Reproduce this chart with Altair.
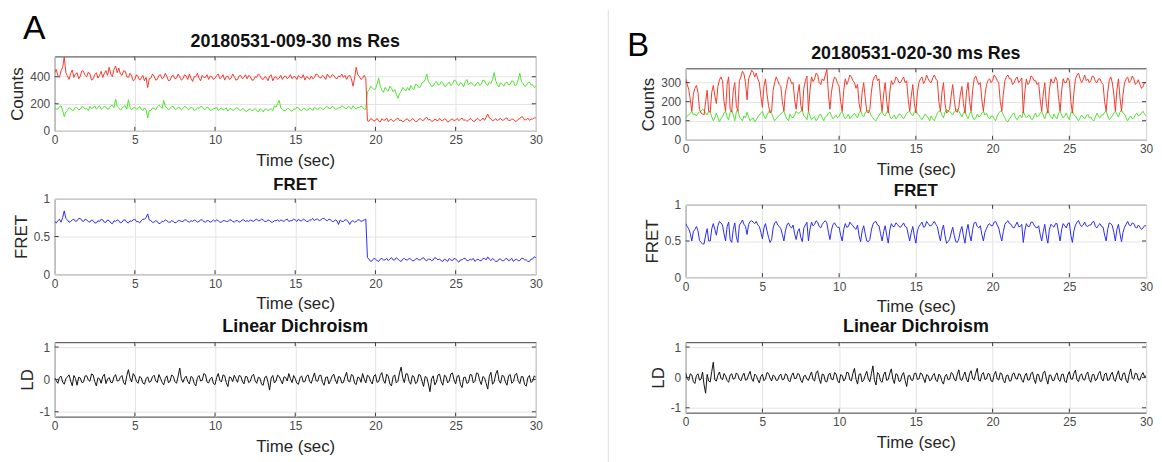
import altair as alt
import pandas as pd

# ---------------- data (0.1 s sampling, 0..30 s) ----------------
TIME = [round(0.1 * i, 1) for i in range(301)]

A_RED = [430, 455, 410, 395, 445, 470, 545, 430, 405, 380, 425, 450, 395, 420, 430, 385, 405, 445, 440, 410,
         400, 435, 420, 375, 385, 415, 430, 390, 410, 440, 395, 425, 445, 410, 470, 420, 400, 455, 480, 430,
         465, 420, 410, 445, 440, 400, 395, 425, 405, 370, 380, 415, 400, 375, 390, 410, 370, 395, 320, 385,
         390, 420, 405, 375, 380, 410, 415, 385, 395, 425, 400, 370, 375, 405, 410, 385, 390, 420, 400, 375,
         385, 415, 405, 380, 420, 390, 365, 400, 400, 425, 390, 370, 410, 395, 395, 415, 380, 405, 400, 380,
         390, 410, 420, 385, 395, 415, 375, 400, 405, 380, 390, 420, 400, 375, 380, 405, 410, 385, 395, 415,
         385, 410, 400, 375, 375, 400, 395, 420, 410, 385, 380, 400, 395, 370, 405, 415, 370, 395, 400, 380,
         390, 410, 380, 400, 405, 385, 395, 415, 385, 400, 400, 380, 410, 395, 390, 415, 375, 400, 395, 380,
         405, 385, 395, 420, 415, 395, 390, 410, 400, 380, 420, 400, 395, 415, 410, 390, 385, 405, 400, 420,
         395, 410, 380, 405, 410, 385, 330, 390, 470, 415, 400, 380, 390, 410, 385, 75, 70, 90, 85, 72,
         78, 92, 72, 65, 90, 78, 80, 95, 68, 82, 85, 70, 75, 88, 95, 76, 80, 66, 72, 86,
         88, 72, 75, 90, 82, 68, 70, 86, 90, 77, 78, 94, 100, 80, 85, 70, 72, 88, 80, 74,
         92, 76, 78, 88, 85, 66, 70, 84, 88, 74, 80, 92, 75, 86, 95, 78, 82, 70, 78, 90,
         85, 70, 72, 88, 90, 76, 80, 95, 78, 100, 125, 96, 88, 74, 80, 90, 75, 84, 92, 78,
         80, 92, 95, 76, 78, 88, 85, 70, 72, 86, 90, 104, 100, 80, 82, 94, 78, 86, 88, 96,
         95]

A_GREEN = [175, 160, 160, 180, 185, 150, 105, 140, 150, 170, 165, 150, 155, 175, 170, 155, 160, 180, 175, 160,
           165, 150, 180, 165, 170, 185, 160, 175, 185, 160, 170, 180, 175, 160, 165, 185, 190, 170, 235, 180,
           170, 155, 165, 180, 185, 160, 230, 175, 155, 170, 175, 160, 165, 180, 160, 150, 170, 155, 95, 150,
           150, 170, 165, 155, 175, 190, 180, 165, 225, 180, 170, 155, 165, 180, 180, 160, 160, 175, 170, 155,
           165, 180, 175, 160, 160, 175, 170, 150, 155, 170, 165, 180, 180, 160, 160, 175, 170, 150, 155, 165,
           165, 175, 150, 160, 170, 155, 160, 170, 145, 160, 165, 150, 155, 170, 170, 155, 150, 165, 160, 145,
           145, 160, 160, 150, 155, 165, 150, 140, 165, 155, 140, 160, 160, 150, 155, 165, 150, 185, 175, 200,
           225, 170, 160, 150, 150, 165, 165, 150, 145, 160, 160, 175, 170, 155, 150, 165, 165, 150, 155, 170,
           160, 150, 175, 165, 155, 170, 170, 160, 160, 175, 180, 165, 165, 180, 175, 160, 160, 170, 170, 185,
           180, 165, 165, 180, 175, 160, 185, 170, 160, 175, 170, 185, 175, 160, 160, 290, 300, 330, 320, 305,
           310, 345, 390, 330, 300, 285, 320, 305, 295, 330, 315, 290, 305, 270, 240, 275, 290, 320, 310, 295,
           320, 300, 335, 315, 305, 345, 340, 320, 325, 355, 360, 380, 420, 365, 350, 330, 330, 355, 365, 340,
           340, 365, 355, 330, 330, 350, 360, 335, 345, 375, 370, 345, 335, 355, 350, 325, 365, 380, 340, 355,
           355, 340, 330, 350, 360, 335, 345, 375, 370, 345, 335, 360, 350, 380, 430, 370, 340, 325, 355, 345,
           330, 355, 360, 340, 345, 370, 365, 335, 340, 380, 425, 365, 350, 330, 335, 355, 360, 340, 340, 320,
           330]

A_FRET = [0.70, 0.68, 0.71, 0.73, 0.69, 0.75, 0.84, 0.74, 0.72, 0.69, 0.70, 0.72, 0.73, 0.70, 0.71, 0.74, 0.74, 0.71, 0.70, 0.73,
          0.72, 0.70, 0.69, 0.72, 0.71, 0.68, 0.68, 0.71, 0.70, 0.73, 0.72, 0.69, 0.69, 0.72, 0.71, 0.68, 0.67, 0.71, 0.70, 0.72,
          0.71, 0.68, 0.69, 0.72, 0.72, 0.69, 0.68, 0.71, 0.70, 0.72, 0.73, 0.70, 0.70, 0.68, 0.71, 0.73, 0.73, 0.75, 0.80, 0.72,
          0.71, 0.69, 0.69, 0.71, 0.70, 0.67, 0.68, 0.70, 0.70, 0.72, 0.71, 0.69, 0.69, 0.71, 0.70, 0.68, 0.69, 0.71, 0.71, 0.70,
          0.70, 0.72, 0.72, 0.70, 0.69, 0.71, 0.70, 0.72, 0.71, 0.69, 0.70, 0.72, 0.72, 0.70, 0.69, 0.71, 0.71, 0.69, 0.70, 0.72,
          0.70, 0.72, 0.71, 0.69, 0.69, 0.71, 0.71, 0.70, 0.70, 0.72, 0.72, 0.70, 0.69, 0.71, 0.71, 0.69, 0.70, 0.72, 0.72, 0.70,
          0.71, 0.70, 0.72, 0.71, 0.70, 0.72, 0.73, 0.71, 0.71, 0.73, 0.72, 0.70, 0.70, 0.72, 0.71, 0.69, 0.69, 0.71, 0.71, 0.72,
          0.70, 0.72, 0.71, 0.70, 0.72, 0.73, 0.70, 0.71, 0.71, 0.73, 0.72, 0.70, 0.73, 0.71, 0.71, 0.73, 0.72, 0.70, 0.70, 0.72,
          0.72, 0.74, 0.71, 0.73, 0.73, 0.71, 0.72, 0.74, 0.74, 0.72, 0.71, 0.73, 0.72, 0.70, 0.70, 0.72, 0.71, 0.66, 0.72, 0.70,
          0.70, 0.72, 0.72, 0.70, 0.66, 0.70, 0.71, 0.69, 0.70, 0.72, 0.72, 0.70, 0.71, 0.72, 0.73, 0.22, 0.20, 0.17, 0.18, 0.21,
          0.20, 0.18, 0.17, 0.20, 0.21, 0.19, 0.19, 0.21, 0.18, 0.20, 0.22, 0.19, 0.19, 0.22, 0.20, 0.18, 0.17, 0.20, 0.21, 0.19,
          0.19, 0.21, 0.20, 0.18, 0.18, 0.20, 0.21, 0.19, 0.19, 0.21, 0.22, 0.19, 0.18, 0.20, 0.20, 0.18, 0.19, 0.22, 0.21, 0.19,
          0.20, 0.18, 0.17, 0.20, 0.19, 0.17, 0.21, 0.19, 0.18, 0.21, 0.20, 0.18, 0.16, 0.19, 0.19, 0.21, 0.21, 0.18, 0.18, 0.20,
          0.19, 0.21, 0.17, 0.19, 0.20, 0.18, 0.18, 0.21, 0.21, 0.19, 0.23, 0.20, 0.18, 0.21, 0.19, 0.17, 0.17, 0.20, 0.20, 0.18,
          0.18, 0.20, 0.21, 0.18, 0.19, 0.21, 0.17, 0.19, 0.20, 0.18, 0.18, 0.21, 0.21, 0.19, 0.19, 0.17, 0.17, 0.20, 0.20, 0.23,
          0.22]

A_LD = [0.05, -0.04, -0.12, 0.06, 0.10, -0.08, -0.15, 0.02, 0.08, 0.14, -0.05, -0.20, 0.12, 0.03, -0.18, 0.07, 0.04, -0.10, -0.08, 0.11,
        0.11, -0.02, -0.06, 0.17, 0.14, -0.07, -0.20, 0.05, 0.02, -0.12, 0.09, 0.16, -0.13, 0.01, 0.06, -0.09, -0.10, 0.08, 0.15, -0.05,
        -0.04, 0.07, 0.12, -0.10, -0.16, 0.12, 0.30, 0.05, -0.08, 0.18, 0.10, -0.06, -0.12, 0.09, 0.05, -0.11, -0.15, 0.02, 0.08, -0.09,
        -0.06, 0.08, 0.13, -0.04, -0.10, 0.15, 0.04, -0.09, -0.17, 0.03, 0.11, -0.11, -0.05, 0.14, 0.09, -0.07, -0.12, 0.10, 0.35, 0.02,
        -0.09, 0.04, 0.10, -0.07, -0.14, 0.09, 0.06, -0.12, -0.20, 0.05, 0.12, -0.05, -0.03, 0.18, 0.15, -0.08, -0.11, 0.02, 0.07, -0.13,
        -0.16, 0.06, 0.18, -0.03, -0.08, 0.14, 0.11, -0.10, -0.22, 0.08, 0.05, -0.07, 0.13, 0.02, -0.09, 0.12, 0.10, -0.05, -0.14, 0.09,
        0.08, -0.10, -0.06, 0.11, 0.16, -0.04, -0.12, 0.07, 0.04, -0.15, -0.18, 0.06, 0.10, -0.08, -0.33, 0.04, 0.12, -0.11, -0.05, 0.13,
        0.09, -0.03, -0.14, 0.08, 0.06, -0.05, 0.18, 0.02, -0.10, 0.12, 0.03, -0.12, -0.15, 0.05, 0.11, -0.08, -0.07, 0.10, 0.14, -0.06,
        -0.12, 0.05, 0.20, -0.04, -0.06, 0.12, 0.13, -0.09, -0.18, 0.06, 0.08, -0.14, -0.04, 0.10, 0.16, -0.02, -0.13, 0.09, 0.07, -0.11,
        -0.10, 0.08, 0.22, -0.05, -0.08, 0.15, 0.12, -0.12, -0.16, 0.07, 0.05, -0.09, 0.18, 0.01, -0.11, 0.13, 0.09, -0.06, -0.14, 0.10,
        0.15, -0.09, -0.07, 0.12, 0.21, -0.03, -0.12, 0.16, 0.10, -0.14, -0.20, 0.08, 0.14, -0.11, -0.06, 0.20, 0.38, 0.05, -0.10, 0.17,
        0.17, -0.06, -0.15, 0.12, 0.08, -0.13, -0.09, 0.15, 0.13, -0.05, -0.22, 0.09, 0.06, -0.14, -0.38, 0.02, 0.11, -0.17, -0.08, 0.14,
        0.16, -0.07, -0.18, 0.13, 0.09, -0.11, -0.05, 0.17, 0.20, -0.02, -0.14, 0.10, 0.12, -0.16, -0.25, 0.06, 0.07, -0.12, -0.10, 0.15,
        0.14, -0.11, -0.06, 0.20, 0.18, -0.04, -0.16, 0.09, 0.05, -0.12, -0.30, 0.10, 0.22, -0.15, -0.08, 0.17, 0.28, -0.03, -0.12, 0.13,
        0.10, -0.08, -0.18, 0.11, 0.15, -0.12, -0.07, 0.14, 0.19, -0.04, -0.13, 0.09, 0.08, -0.16, -0.21, 0.05, 0.12, -0.10, -0.05, 0.11,
        0.06]

B_RED = [320, 290, 265, 210, 150, 240, 270, 285, 250, 160, 140, 135, 130, 200, 260, 150, 145, 250, 285, 230,
         190, 280, 315, 330, 310, 200, 150, 290, 330, 160, 145, 260, 300, 180, 150, 310, 330, 360, 345, 300,
         210, 320, 340, 365, 355, 330, 350, 320, 300, 230, 170, 280, 320, 240, 180, 140, 150, 260, 300, 330,
         310, 290, 280, 200, 150, 250, 290, 330, 320, 295, 300, 210, 160, 240, 290, 180, 150, 270, 310, 335,
         150, 260, 330, 305, 320, 350, 340, 300, 290, 320, 310, 340, 370, 240, 160, 250, 300, 330, 320, 295,
         280, 200, 150, 260, 320, 290, 310, 340, 330, 310, 300, 270, 290, 190, 150, 250, 300, 220, 150, 140,
         160, 250, 310, 330, 340, 310, 320, 220, 150, 240, 300, 200, 140, 250, 310, 290, 300, 330, 320, 300,
         300, 315, 330, 300, 310, 210, 150, 230, 290, 190, 140, 250, 300, 320, 330, 295, 310, 340, 320, 305,
         300, 325, 340, 320, 310, 200, 150, 250, 300, 190, 140, 150, 160, 230, 290, 210, 150, 145, 170, 240,
         280, 190, 140, 250, 300, 200, 150, 260, 320, 335, 310, 290, 300, 210, 150, 230, 290, 310, 320, 300,
         310, 340, 330, 310, 300, 200, 150, 240, 310, 330, 340, 320, 320, 290, 300, 320, 330, 300, 310, 325,
         140, 250, 320, 290, 300, 335, 330, 310, 310, 290, 300, 210, 150, 240, 300, 190, 140, 260, 320, 300,
         300, 330, 310, 220, 150, 260, 320, 300, 300, 325, 310, 200, 140, 250, 320, 340, 350, 320, 300, 315,
         340, 310, 320, 300, 310, 335, 330, 305, 300, 320, 320, 300, 290, 200, 150, 250, 310, 330, 300, 240,
         150, 260, 320, 220, 150, 240, 300, 320, 330, 300, 310, 335, 320, 290, 300, 315, 290, 270, 280, 300,
         300]

B_GREEN = [115, 125, 130, 140, 150, 130, 135, 125, 140, 145, 150, 160, 155, 140, 130, 150, 145, 120, 100, 115,
           140, 115, 95, 110, 120, 140, 150, 120, 105, 145, 155, 130, 100, 145, 160, 120, 110, 100, 125, 115,
           145, 120, 100, 110, 115, 95, 105, 120, 130, 140, 150, 125, 110, 130, 145, 155, 140, 115, 100, 110,
           120, 130, 135, 145, 150, 125, 110, 100, 135, 120, 115, 130, 150, 140, 140, 150, 155, 125, 120, 105,
           150, 125, 105, 115, 120, 100, 110, 130, 135, 115, 100, 120, 125, 140, 145, 125, 110, 120, 130, 115,
           125, 140, 150, 125, 110, 120, 135, 110, 120, 130, 140, 125, 115, 140, 155, 130, 120, 140, 150, 155,
           145, 125, 115, 105, 100, 115, 130, 140, 150, 130, 125, 145, 155, 125, 110, 120, 130, 110, 120, 135,
           135, 120, 110, 125, 140, 145, 150, 135, 125, 145, 155, 135, 130, 115, 105, 120, 135, 125, 115, 100,
           125, 110, 100, 120, 140, 150, 150, 130, 115, 145, 160, 150, 150, 140, 130, 145, 155, 160, 150, 135,
           120, 140, 155, 125, 110, 135, 150, 120, 105, 115, 135, 120, 125, 140, 150, 130, 140, 120, 110, 125,
           125, 110, 100, 125, 140, 150, 150, 130, 115, 100, 95, 110, 120, 135, 140, 115, 105, 120, 130, 115,
           150, 130, 115, 125, 130, 110, 105, 125, 140, 120, 125, 140, 150, 130, 110, 140, 155, 135, 120, 110,
           135, 120, 110, 140, 150, 130, 115, 125, 140, 120, 105, 140, 150, 130, 125, 110, 100, 115, 130, 120,
           110, 125, 135, 115, 120, 105, 100, 120, 140, 125, 115, 130, 130, 145, 150, 125, 105, 115, 125, 140,
           150, 135, 120, 145, 155, 140, 135, 115, 100, 115, 125, 110, 115, 130, 140, 125, 130, 140, 150, 135,
           125]

B_FRET = [0.74, 0.70, 0.67, 0.60, 0.50, 0.63, 0.66, 0.70, 0.64, 0.51, 0.48, 0.46, 0.46, 0.58, 0.67, 0.50, 0.50, 0.67, 0.74, 0.66,
          0.58, 0.71, 0.77, 0.75, 0.72, 0.60, 0.50, 0.70, 0.76, 0.52, 0.48, 0.66, 0.75, 0.56, 0.48, 0.72, 0.75, 0.79, 0.73, 0.70,
          0.59, 0.73, 0.77, 0.78, 0.76, 0.74, 0.77, 0.72, 0.70, 0.62, 0.53, 0.68, 0.74, 0.64, 0.55, 0.48, 0.52, 0.68, 0.75, 0.77,
          0.72, 0.70, 0.67, 0.59, 0.50, 0.64, 0.72, 0.75, 0.70, 0.68, 0.72, 0.60, 0.52, 0.63, 0.67, 0.55, 0.49, 0.68, 0.72, 0.76,
          0.50, 0.66, 0.76, 0.71, 0.73, 0.78, 0.76, 0.70, 0.68, 0.73, 0.76, 0.78, 0.75, 0.62, 0.52, 0.65, 0.73, 0.75, 0.71, 0.69,
          0.69, 0.58, 0.50, 0.66, 0.74, 0.69, 0.70, 0.76, 0.73, 0.71, 0.68, 0.66, 0.72, 0.57, 0.49, 0.64, 0.71, 0.60, 0.50, 0.49,
          0.52, 0.65, 0.73, 0.76, 0.77, 0.72, 0.71, 0.60, 0.50, 0.63, 0.71, 0.58, 0.47, 0.65, 0.74, 0.70, 0.70, 0.75, 0.73, 0.70,
          0.69, 0.72, 0.75, 0.70, 0.69, 0.59, 0.50, 0.62, 0.70, 0.57, 0.47, 0.64, 0.70, 0.73, 0.76, 0.69, 0.70, 0.77, 0.74, 0.71,
          0.71, 0.74, 0.77, 0.73, 0.70, 0.59, 0.50, 0.65, 0.72, 0.57, 0.47, 0.49, 0.52, 0.61, 0.69, 0.58, 0.49, 0.48, 0.53, 0.64,
          0.70, 0.57, 0.47, 0.64, 0.73, 0.59, 0.50, 0.66, 0.75, 0.76, 0.70, 0.68, 0.71, 0.59, 0.50, 0.62, 0.67, 0.72, 0.74, 0.71,
          0.71, 0.76, 0.77, 0.72, 0.68, 0.58, 0.50, 0.63, 0.73, 0.76, 0.78, 0.74, 0.73, 0.69, 0.68, 0.72, 0.76, 0.70, 0.70, 0.73,
          0.48, 0.64, 0.74, 0.70, 0.70, 0.76, 0.76, 0.72, 0.69, 0.68, 0.71, 0.59, 0.50, 0.63, 0.73, 0.57, 0.47, 0.66, 0.73, 0.71,
          0.69, 0.74, 0.74, 0.61, 0.50, 0.66, 0.74, 0.71, 0.68, 0.74, 0.75, 0.58, 0.48, 0.64, 0.72, 0.76, 0.78, 0.73, 0.70, 0.72,
          0.76, 0.71, 0.70, 0.72, 0.72, 0.76, 0.77, 0.70, 0.68, 0.72, 0.74, 0.70, 0.69, 0.58, 0.50, 0.66, 0.75, 0.74, 0.71, 0.62,
          0.50, 0.66, 0.73, 0.60, 0.49, 0.62, 0.69, 0.73, 0.77, 0.72, 0.71, 0.75, 0.74, 0.69, 0.68, 0.72, 0.69, 0.66, 0.68, 0.71,
          0.71]

B_LD = [0.15, -0.05, -0.10, 0.12, 0.08, -0.14, -0.20, 0.06, 0.12, -0.09, -0.06, 0.18, -0.25, -0.52, 0.10, -0.12, -0.15, 0.20, 0.50, -0.08,
        -0.12, 0.07, 0.18, -0.03, -0.08, 0.13, 0.05, -0.10, -0.16, 0.08, 0.12, -0.06, -0.04, 0.15, 0.09, -0.07, -0.11, 0.05, 0.14, -0.09,
        -0.07, 0.09, 0.20, -0.04, -0.13, 0.11, 0.06, -0.08, -0.18, 0.03, 0.10, -0.11, -0.05, 0.16, 0.13, -0.02, -0.12, 0.08, 0.04, -0.10,
        -0.09, 0.05, 0.11, -0.08, -0.06, 0.12, 0.08, -0.11, -0.14, 0.06, 0.15, -0.04, -0.03, 0.13, 0.10, -0.09, -0.17, 0.04, 0.07, -0.06,
        -0.10, 0.06, 0.18, -0.07, -0.12, 0.15, 0.22, -0.05, -0.20, 0.11, 0.09, -0.13, -0.15, 0.08, 0.14, -0.06, -0.08, 0.16, 0.12, -0.11,
        -0.18, 0.09, 0.06, -0.12, -0.05, 0.17, 0.15, -0.08, -0.11, 0.14, 0.30, -0.06, -0.22, 0.10, 0.12, -0.15, -0.09, 0.07, 0.20, -0.04,
        -0.14, 0.12, 0.38, -0.08, -0.25, 0.16, 0.10, -0.12, -0.16, 0.09, 0.18, -0.10, -0.07, 0.14, 0.28, -0.06, -0.20, 0.12, 0.09, -0.13,
        -0.12, 0.08, 0.16, -0.10, -0.30, 0.05, 0.07, -0.09, -0.10, 0.13, 0.14, -0.07, -0.05, 0.15, 0.11, -0.04, -0.17, 0.09, 0.06, -0.11,
        -0.08, 0.07, 0.13, -0.09, -0.14, 0.11, 0.05, -0.13, -0.22, 0.04, 0.10, -0.08, -0.06, 0.16, 0.12, -0.05, -0.12, 0.10, 0.25, -0.07,
        -0.10, 0.06, 0.18, -0.06, -0.15, 0.12, 0.22, -0.04, -0.08, 0.14, 0.30, -0.09, -0.12, 0.10, 0.16, -0.07, -0.05, 0.13, 0.11, -0.12,
        -0.14, 0.09, 0.20, -0.05, -0.09, 0.15, 0.12, -0.10, -0.18, 0.06, 0.08, -0.12, -0.11, 0.11, 0.15, -0.03, -0.06, 0.12, 0.10, -0.08,
        -0.16, 0.05, 0.14, -0.09, -0.08, 0.12, 0.18, -0.06, -0.20, 0.10, 0.09, -0.13, -0.12, 0.16, 0.21, -0.04, -0.22, 0.08, 0.07, -0.10,
        -0.10, 0.07, 0.15, -0.08, -0.13, 0.10, 0.11, -0.12, -0.17, 0.08, 0.19, -0.05, -0.06, 0.14, 0.24, -0.09, -0.14, 0.06, 0.12, -0.07,
        -0.09, 0.10, 0.18, -0.07, -0.16, 0.09, 0.10, -0.11, -0.05, 0.13, 0.20, -0.04, -0.12, 0.11, 0.14, -0.10, -0.08, 0.09, 0.17, -0.06,
        -0.13, 0.08, 0.22, -0.05, -0.10, 0.13, 0.15, -0.09, -0.18, 0.10, 0.28, -0.02, -0.06, 0.14, 0.12, -0.08, -0.09, 0.07, 0.16, 0.02,
        0.05]

X_TICKS = [0, 5, 10, 15, 20, 25, 30]
TITLE_A = "20180531-009-30 ms Res"
TITLE_B = "20180531-020-30 ms Res"

# ---------------- style ----------------
FONT = "Liberation Sans"
RED, GREEN, BLUE, BLACK = "#f23a2c", "#4fe22e", "#2a2af2", "#121212"
FRAME = "#3a3a3a"


def table(**cols):
    n = min(len(TIME), *[len(v) for v in cols.values()])
    d = {"t": TIME[:n]}
    for k, v in cols.items():
        d[k] = v[:n]
    return pd.DataFrame(d)


def panel(df, series, ydomain, yticks, ytitle, title, tsize, toff, w, h):
    xenc = alt.X("t:Q", scale=alt.Scale(domain=[0, 30], nice=False, zero=False),
                 axis=alt.Axis(values=X_TICKS, title="Time (sec)"))
    yscale = alt.Scale(domain=ydomain, nice=False, zero=False)
    yaxis = alt.Axis(values=yticks, title=ytitle, labelExpr="datum.value + ''")

    def yenc(f):
        return alt.Y(f"{f}:Q", scale=yscale, axis=yaxis)

    layers = []
    for col, color in series:
        layers.append(alt.Chart(df).mark_line(color=color, strokeWidth=1, clip=True)
                      .encode(x=xenc, y=yenc(col)))
    # inward tick marks (MATLAB style)
    xt = pd.DataFrame({"t": X_TICKS[1:-1]})
    layers.append(alt.Chart(xt).mark_rule(color=FRAME, strokeWidth=1)
                  .encode(x=xenc, y=alt.value(0), y2=alt.value(4)))
    layers.append(alt.Chart(xt).mark_rule(color=FRAME, strokeWidth=1)
                  .encode(x=xenc, y=alt.value(h - 4), y2=alt.value(h)))
    inner = [v for v in yticks if ydomain[0] < v < ydomain[1]]
    yt = pd.DataFrame({"v": inner})
    layers.append(alt.Chart(yt).mark_rule(color=FRAME, strokeWidth=1)
                  .encode(y=yenc("v"), x=alt.value(0), x2=alt.value(4)))
    layers.append(alt.Chart(yt).mark_rule(color=FRAME, strokeWidth=1)
                  .encode(y=yenc("v"), x=alt.value(w - 4), x2=alt.value(w)))
    return alt.layer(*layers).properties(
        width=w, height=h,
        title=alt.TitleParams(title, fontSize=tsize, fontWeight="bold", font=FONT,
                              color="#111111", offset=toff, anchor="middle", frame="group"))


def deco(w, h, items):
    d = pd.DataFrame({"k": [0]})
    layers = []
    for it in items:
        if it[0] == "rule":
            _, color, x, x2, y, y2 = it
            layers.append(alt.Chart(d).mark_rule(color=color, strokeWidth=1).encode(
                x=alt.value(x), x2=alt.value(x2), y=alt.value(y), y2=alt.value(y2)))
        else:
            _, txt, size, x, y = it
            layers.append(alt.Chart(d).mark_text(text=txt, font=FONT, fontSize=size, align="left",
                                                 baseline="alphabetic", color="#000000").encode(
                x=alt.value(x), y=alt.value(y)))
    return alt.layer(*layers).properties(width=w, height=h,
                                         view=alt.ViewBackground(strokeOpacity=0))


WA, WB = 485, 464

A1 = panel(table(red=A_RED, green=A_GREEN), [("green", GREEN), ("red", RED)],
           [0, 550], [0, 200, 400], "Counts", TITLE_A, 18, 5, WA, 75)
A2 = panel(table(fret=A_FRET), [("fret", BLUE)],
           [0, 1], [0, 0.5, 1], "FRET", "FRET", 17, -1, WA, 76)
A3 = panel(table(ld=A_LD), [("ld", BLACK)],
           [-1.15, 1.15], [-1, 0, 1], "LD", "Linear Dichroism", 18, 5, WA, 75)
# header strip of column A (origin at page y 54, 1 px tall)
DA = deco(WA, 1, [("rule", "#ffffff", -43.5, -43.5, -45.5, -44.5),
                  ("rule", "#ffffff", 498, 498, 10, 11),
                  ("text", "A", 34, -32, -17)])

B1 = panel(table(red=B_RED, green=B_GREEN), [("green", GREEN), ("red", RED)],
           [0, 375], [0, 100, 200, 300], "Counts", TITLE_B, 18, 5, WB, 72)
B2 = panel(table(fret=B_FRET), [("fret", BLUE)],
           [0, 1], [0, 0.5, 1], "FRET", "FRET", 17, -1, WB, 73)
B3 = panel(table(ld=B_LD), [("ld", BLACK)],
           [-1.16, 1.16], [-1, 0, 1], "LD", "Linear Dichroism", 18, 5, WB, 71)
# header strip of column B (origin at page y 54, 12.7 px tall) with the separator line
DB = deco(WB, 12.7, [("rule", "#dcdcdc", -78, -78, -45.5, 416),
                     ("text", "B", 33, -59, 1)])

innerA = alt.vconcat(A1, A2, A3, spacing=68.5, bounds="flush")
innerB = alt.vconcat(B1, B2, B3, spacing=65.5, bounds="flush")
colA = alt.vconcat(DA, innerA, spacing=0, bounds="flush")
colB = alt.vconcat(DB, innerB, spacing=0, bounds="flush")

chart = alt.concat(colA, colB, columns=2, align="none", spacing=58, bounds="full").properties(
    padding=0, background="#ffffff"
).configure_view(stroke=FRAME, strokeWidth=1).configure_axis(
    grid=True, gridColor="#e4e4e4", gridWidth=1, domain=False, ticks=False,
    labelFont=FONT, labelFontSize=12, labelColor="#4a4a4a", labelFlush=False, labelOverlap=False,
    titleFont=FONT, titleFontSize=17, titleFontWeight="normal", titleColor="#262626"
).configure_axisX(labelPadding=4, titlePadding=7).configure_axisY(labelPadding=5, titlePadding=3)

chart.save("out.html", embed_options={"renderer": "svg", "actions": False})
